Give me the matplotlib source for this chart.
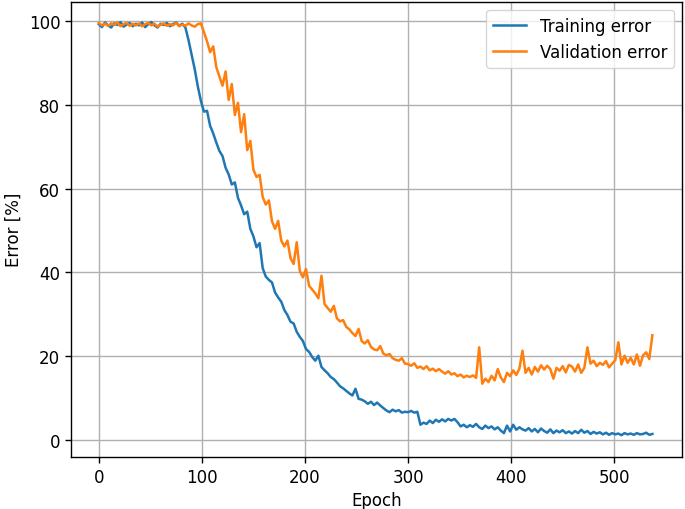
# libraries
import numpy as np
import matplotlib
matplotlib.use('Agg')
import matplotlib.pyplot as plt

# data, one value every 3 epochs (0, 3, ..., 537)
epochs = np.arange(0, 540, 3)

training_error = [
    99.3, 98.6, 99.7, 99.0, 98.5, 99.5, 99.1, 99.8, 98.7, 99.2,
    99.6, 98.8, 99.4, 99.0, 99.7, 98.6, 99.3, 99.8, 99.0, 98.5,
    99.4, 99.1, 99.6, 98.8, 99.3, 99.7, 98.9, 99.4, 98.5,
    95.5, 92.0, 88.6, 84.5, 81.0, 78.4, 78.6, 75.0, 73.2, 71.0,
    69.0, 67.8, 65.0, 63.4, 61.0, 61.5, 57.8, 56.0, 53.9, 54.5,
    50.4, 48.6, 46.0, 47.0, 41.0, 39.0, 38.2, 37.6, 35.2, 34.0,
    33.0, 31.0, 29.8, 28.2, 27.8, 25.8, 24.6, 23.6, 21.7, 21.0,
    19.8, 18.9, 20.1, 17.4, 16.6, 15.9, 15.0, 14.5, 13.7, 12.8,
    12.3, 11.7, 11.1, 10.6, 12.2, 9.8, 9.6, 9.2, 8.6, 9.1,
    8.3, 8.9, 8.2, 7.6, 7.0, 6.6, 7.2, 6.8, 7.1, 6.5,
    6.7, 6.6, 6.9, 6.5, 6.7, 3.6, 4.1, 3.8, 4.6, 4.0,
    4.8, 4.3, 4.9, 4.4, 5.0, 4.6, 5.0, 4.2, 3.2, 3.6,
    3.0, 3.5, 3.1, 3.8, 3.0, 2.6, 3.4, 2.8, 3.2, 2.5,
    3.0, 2.2, 1.6, 3.4, 2.0, 3.6, 2.4, 3.0, 2.5, 2.2,
    2.8, 2.0, 2.6, 1.8, 2.7, 2.1, 1.7, 2.5, 1.6, 2.2,
    1.8, 2.3, 1.6, 2.0, 1.5, 2.1, 1.6, 2.4, 1.7, 2.1,
    1.4, 1.9, 1.5, 1.8, 1.3, 1.7, 1.2, 1.6, 1.3, 1.5,
    1.1, 1.6, 1.3, 1.5, 1.2, 1.6, 1.3, 1.4, 1.7, 1.2,
    1.4,
]

validation_error = [
    99.6, 99.0, 99.4, 98.9, 99.5, 99.1, 99.7, 98.8, 99.3, 99.6,
    98.9, 99.4, 99.0, 99.5, 98.8, 99.3, 99.6, 99.0, 99.4, 98.7,
    99.2, 99.5, 98.9, 99.3, 99.0, 99.6, 98.8, 99.2, 98.9, 99.5,
    99.0, 98.7, 99.3, 99.5,
    97.4, 95.2, 92.6, 94.0, 89.0, 86.8, 84.6, 88.0, 81.2, 85.0,
    77.6, 80.5, 73.5, 77.8, 69.2, 71.4, 64.5, 62.8, 63.3, 58.0,
    56.2, 57.2, 52.2, 50.4, 52.3, 47.6, 46.2, 47.6, 43.4, 42.0,
    47.2, 40.3, 38.8, 40.8, 36.8, 35.9, 35.0, 33.8, 39.2, 32.4,
    31.5, 30.6, 32.0, 29.0, 28.3, 28.6, 27.0, 26.4, 25.5, 24.8,
    26.5, 23.6, 23.0, 23.8, 22.2, 21.6, 21.4, 22.4, 20.6, 20.2,
    20.5, 19.5, 19.1, 18.9, 19.5, 18.2, 18.1, 17.7, 18.3, 17.2,
    17.5, 16.9, 17.6, 16.6, 17.0, 16.4, 16.9, 16.3, 15.8, 16.4,
    15.6, 15.9, 15.2, 15.6, 14.9, 15.3, 15.0, 15.4, 14.8, 22.1,
    13.4, 14.6, 13.8, 15.3, 14.2, 16.9, 14.9, 13.8, 16.0, 15.2,
    16.6, 15.5, 17.0, 21.3, 16.0, 17.2, 15.6, 17.4, 16.3, 17.8,
    16.8, 17.7, 16.9, 14.6, 17.2, 16.5, 17.6, 16.1, 17.9, 17.5,
    16.3, 18.0, 16.0, 17.2, 22.1, 18.2, 18.9, 17.6, 18.4, 17.9,
    18.8, 17.3, 18.2, 19.0, 23.3, 18.0, 20.1, 18.4, 19.6, 18.0,
    20.4, 17.7, 20.2, 20.9, 19.3, 25.0,
]

assert len(training_error) == len(epochs) == len(validation_error)

plt.rcParams['font.size'] = 12

fig, ax = plt.subplots(figsize=(6.85, 5.1), dpi=100)
fig.subplots_adjust(left=0.1036, right=0.996, bottom=0.102, top=0.995)

ax.plot(epochs, training_error, color='#1f77b4', linewidth=1.8, label='Training error')
ax.plot(epochs, validation_error, color='#ff7f0e', linewidth=1.8, label='Validation error')

ax.set_xlim(-27, 566)
ax.set_ylim(-4.1, 104.7)
ax.set_xticks([0, 100, 200, 300, 400, 500])
ax.set_yticks([0, 20, 40, 60, 80, 100])

ax.grid(True, color='#b0b0b0', linewidth=1.0)
ax.tick_params(length=4.2, width=1.0)
for s in ax.spines.values():
    s.set_linewidth(1.0)

ax.set_xlabel('Epoch')
ax.set_ylabel('Error [%]')
ax.legend(loc='upper right', fontsize=12)

plt.savefig('out.png', dpi=100)
